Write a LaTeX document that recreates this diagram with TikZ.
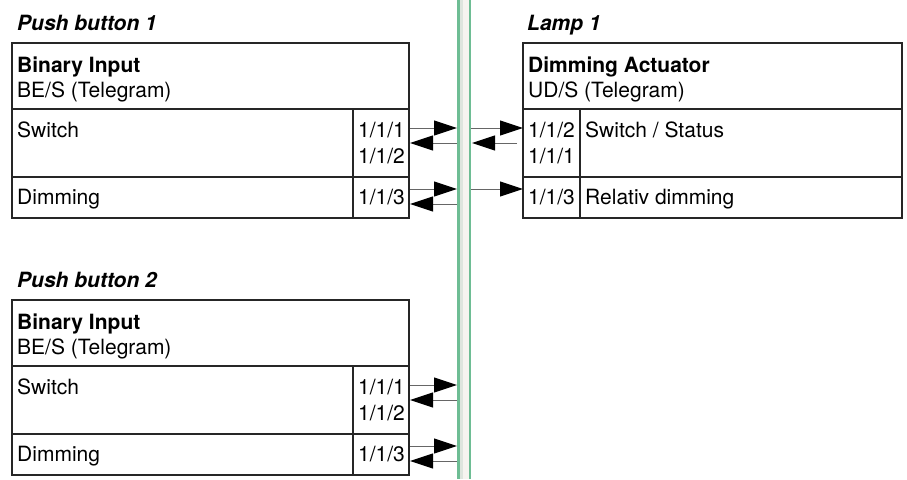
\documentclass[tikz,border=0pt]{standalone}
\usepackage{fontspec}
\setmainfont{TeX Gyre Heros}
\usetikzlibrary{arrows.meta}
\definecolor{busgreen}{RGB}{110,189,148}
\definecolor{busgrey}{RGB}{222,229,222}
\definecolor{buswhite}{RGB}{246,244,240}

\begin{document}
\begin{tikzpicture}[x=1pt, y=-1pt, font=\fontsize{21}{26}\selectfont,
  frame/.style={draw=black!85, line width=1.5pt},
  txt/.style={anchor=base west, inner sep=0pt},
  bold/.style={txt, font=\fontsize{21}{26}\selectfont\bfseries},
  devtitle/.style={txt, font=\fontsize{21}{26}\selectfont\bfseries\itshape},
  tele/.style={-{Triangle[length=23pt,width=15pt,color=black]}, draw=black!60, line width=1pt}]
\useasboundingbox (0,0) rectangle (907,479);

 %bus:
 \fill[buswhite] (457,0) rectangle (471,479);
 \fill[busgrey] (459.5,0) rectangle (462.5,479);
 \fill[busgreen] (457,0) rectangle (459.5,479);
 \fill[busgreen] (468.5,0) rectangle (471,479);

 %push buttons
 \foreach \n/\dy in {1/0, 2/257}{
 \begin{scope}[shift={(0,\dy)}]
  \node[devtitle] (pb\n title) at (17,30) {Push button \n};
  \draw[frame] (12,43) rectangle (409,218);
  \draw[frame] (12,109) -- (409,109);
  \draw[frame] (12,177) -- (409,177);
  \draw[frame] (353,109) -- (353,218);

  \node[bold] (pb\n name) at (17,72) {Binary Input};
  \node[txt] (pb\n type) at (17,97) {BE/S (Telegram)};
  \node[txt] (pb\n sw) at (17,137.5) {Switch};
  \node[txt] (pb\n dim) at (17,204) {Dimming};
  \node[txt] (pb\n ga1) at (358,137.5) {1/1/1};
  \node[txt] (pb\n ga2) at (358,163) {1/1/2};
  \node[txt] (pb\n ga3) at (358,204) {1/1/3};

  \coordinate (pb\n o1) at (410,128);
  \coordinate (pb\n b1) at (457,128);
  \coordinate (pb\n o2) at (410,143);
  \coordinate (pb\n b2) at (457,143);
  \coordinate (pb\n o3) at (410,189);
  \coordinate (pb\n b3) at (457,189);
  \coordinate (pb\n o4) at (410,204);
  \coordinate (pb\n b4) at (457,204);

  \draw[tele] (pb\n o1) -- (pb\n b1);
  \draw[tele] (pb\n b2) -- (pb\n o2);
  \draw[tele] (pb\n o3) -- (pb\n b3);
  \draw[tele] (pb\n b4) -- (pb\n o4);
 \end{scope}
 }

 %lamp
 \node[devtitle] (lamptitle) at (527,30) {Lamp 1};
 \draw[frame] (523,43) rectangle (902,218);
 \draw[frame] (523,109) -- (902,109);
 \draw[frame] (523,177) -- (902,177);
 \draw[frame] (580,109) -- (580,218);

 \node[bold] (lampname) at (528,72) {Dimming Actuator};
 \node[txt] (lamptype) at (528,97) {UD/S (Telegram)};
 \node[txt] (lampga2) at (528,137.5) {1/1/2};
 \node[txt] (lampga1) at (528,163) {1/1/1};
 \node[txt] (lampga3) at (528,204) {1/1/3};
 \node[txt] (lampsw) at (585,137.5) {Switch / Status};
 \node[txt] (lampdim) at (585,204) {Relativ dimming};

 \coordinate (lb1) at (471,128);
 \coordinate (li1) at (523,128);
 \coordinate (lb2) at (472,143);
 \coordinate (li2) at (517,143);
 \coordinate (lb3) at (471,189);
 \coordinate (li3) at (523,189);

 \draw[tele] (lb1) -- (li1);
 \draw[tele] (li2) -- (lb2);
 \draw[tele] (lb3) -- (li3);
\end{tikzpicture}
\end{document}
